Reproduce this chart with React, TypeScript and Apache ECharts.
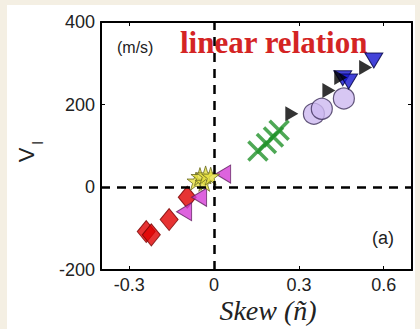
import React, { useEffect, useRef } from "react";
import * as echarts from "echarts";

const xTicks = [-0.3, 0, 0.3, 0.6];
const yTicks = [-200, 0, 200, 400];

const redDiamonds = [[-0.24, -107], [-0.222, -115], [-0.159, -78], [-0.095, -24]];
const magentaTriangles = [[-0.106, -59], [-0.053, -24], [0.032, 32]];
const yellowStars = [[-0.064, 15], [-0.05, 26], [-0.035, 12], [-0.03, 30], [-0.012, 27]];
const greenCrosses = [[0.155, 88], [0.185, 106], [0.21, 122], [0.23, 138]];
const lilacCircles = [[0.353, 178], [0.381, 190], [0.459, 215]];
const blackTriangles = [[0.275, 178], [0.406, 234], [0.448, 266], [0.536, 290]];
const blueTriangles = [[0.455, 264], [0.476, 256], [0.565, 307]];

const STAR = "path://M50,0L61,35L98,35L68,57L79,91L50,70L21,91L32,57L2,35L39,35Z";
const CROSS = "path://M0,0L10,10M10,0L0,10";

export default function App() {
  const ref = useRef<HTMLDivElement>(null);
  useEffect(() => {
    document.body.style.margin = "0";
    const chart = echarts.init(ref.current!, null, { renderer: "svg" });
    const sans = "Liberation Sans";
    const axisCommon = {
      axisLine: { show: true, onZero: false, lineStyle: { color: "#000", width: 2 } },
      splitLine: { show: false },
    };
    chart.setOption({
      animation: false,
      backgroundColor: "#f4efe3",
      grid: { left: 101, right: 8, top: 22, bottom: 59, show: false },
      graphic: [
        { type: "rect", z: -10, shape: { x: 7, y: 5, width: 408, height: 324 }, style: { fill: "#fff" } },
        { type: "text", left: 117, top: 39, style: { text: "(m/s)", font: "16px Liberation Sans", fill: "#222" } },
        { type: "text", left: 180, top: 27, style: { text: "linear relation", font: "bold 31px Liberation Serif", fill: "#d42424" } },
        { type: "text", left: 372, top: 229, style: { text: "(a)", font: "18px Liberation Sans", fill: "#222" } },
        { type: "text", x: 268, y: 310, style: { text: "Skew (ñ)", font: "italic 28px Liberation Serif", fill: "#222", align: "center", verticalAlign: "middle" } },
        { type: "text", x: 26, y: 155, rotation: Math.PI / 2, style: { text: "V", font: "22px Liberation Sans", fill: "#222", align: "center", verticalAlign: "middle" } },
        { type: "text", x: 38, y: 143, rotation: Math.PI / 2, style: { text: "l", font: "14px Liberation Sans", fill: "#222", align: "center", verticalAlign: "middle" } },
      ],
      xAxis: [
        {
          type: "value", min: -0.4, max: 0.7, position: "bottom", ...axisCommon,
          axisTick: { show: true, inside: true, length: 4, customValues: xTicks, lineStyle: { color: "#000" } },
          axisLabel: { show: true, customValues: xTicks, margin: 6, fontSize: 18, fontFamily: sans, color: "#222",
            formatter: (v: number) => (v === 0 ? "0" : String(v)) },
        },
        {
          type: "value", min: -0.4, max: 0.7, position: "top", ...axisCommon,
          axisTick: { show: true, inside: true, length: 4, customValues: xTicks, lineStyle: { color: "#000" } },
          axisLabel: { show: false },
        },
      ],
      yAxis: [
        {
          type: "value", min: -200, max: 400, interval: 200, position: "left", ...axisCommon,
          axisTick: { show: true, inside: true, length: 4, lineStyle: { color: "#000" } },
          axisLabel: { show: true, margin: 6, fontSize: 18, fontFamily: sans, color: "#222" },
        },
        {
          type: "value", min: -200, max: 400, interval: 200, position: "right", ...axisCommon,
          axisTick: { show: true, inside: true, length: 4, lineStyle: { color: "#000" } },
          axisLabel: { show: false },
        },
      ],
      series: [
        {
          type: "scatter", data: [], silent: true,
          markLine: {
            symbol: "none", silent: true, label: { show: false },
            lineStyle: { color: "#000", width: 2.5, type: [9, 7] },
            data: [{ xAxis: 0 }, { yAxis: 0 }],
          },
        },
        {
          type: "scatter", data: redDiamonds, symbol: "diamond", symbolSize: [18, 22],
          itemStyle: { color: "#e00000", borderColor: "#700", borderWidth: 1 },
        },
        {
          type: "scatter", data: magentaTriangles, symbol: "triangle", symbolRotate: 90, symbolSize: [18, 15],
          itemStyle: { color: "#d43cd6", borderColor: "#602060", borderWidth: 1 },
        },
        {
          type: "scatter", data: yellowStars, symbol: STAR, symbolSize: 18,
          itemStyle: { color: "#e6e040", borderColor: "#6a6a20", borderWidth: 1 },
        },
        {
          type: "scatter", data: greenCrosses, symbol: CROSS, symbolSize: 19,
          itemStyle: { color: "rgba(0,0,0,0)", borderColor: "#22922a", borderWidth: 3.5 },
        },
        {
          type: "scatter", data: lilacCircles, symbol: "circle", symbolSize: 21,
          itemStyle: { color: "#cdb9f0", borderColor: "#3d2f5a", borderWidth: 1.2 },
        },
        {
          type: "scatter", data: blueTriangles, symbol: "triangle", symbolRotate: 180, symbolSize: [18, 15],
          itemStyle: { color: "#1414d0", borderColor: "#000040", borderWidth: 1 },
        },
        {
          type: "scatter", data: blackTriangles, symbol: "triangle", symbolRotate: -90, symbolSize: [15, 13],
          itemStyle: { color: "#000" },
        },
      ],
    });
    return () => chart.dispose();
  }, []);
  return <div ref={ref} style={{ width: 420, height: 329 }} />;
}
